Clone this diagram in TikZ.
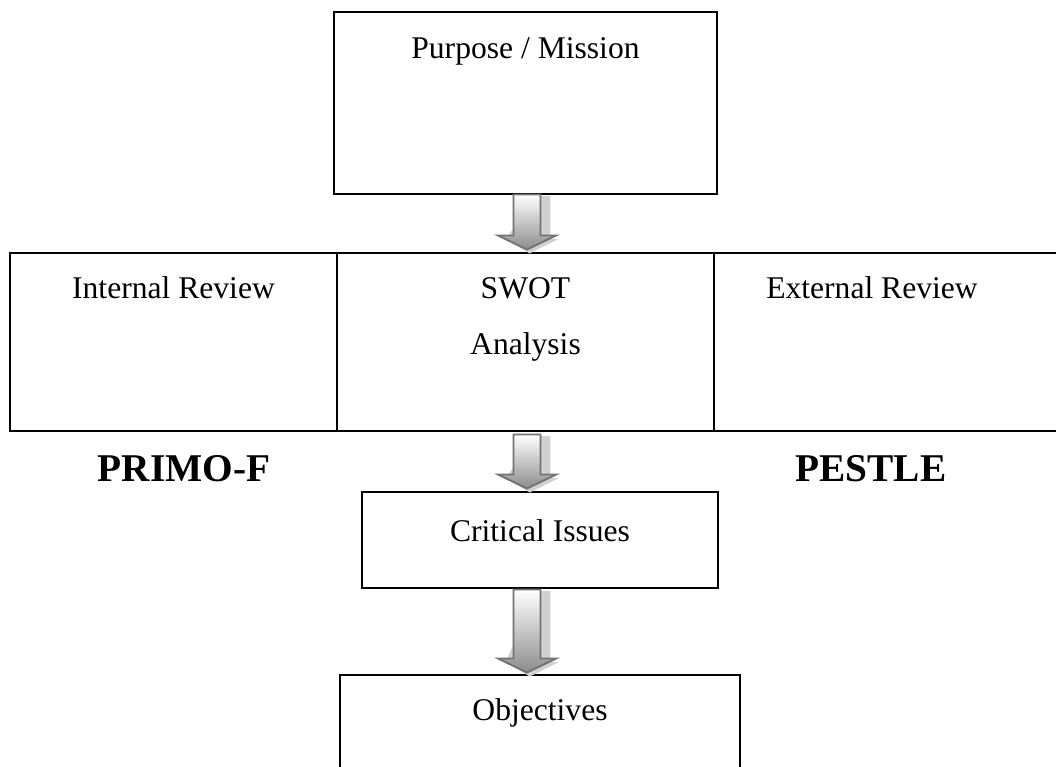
\documentclass[tikz,border=0pt]{standalone}
\usepackage{fontspec}
\setmainfont{Liberation Serif}
\usetikzlibrary{calc}
\begin{document}
\begin{tikzpicture}[x=0.75pt,y=-0.75pt,
  box/.style={draw=black,line width=2.2pt,rectangle,inner sep=0pt},
  lbl/.style={font=\fontsize{23.7}{28}\selectfont,inner sep=0pt},
  bigl/.style={font=\fontsize{29.5}{34}\selectfont\bfseries,inner sep=0pt},
  arrowbody/.style={top color=white,bottom color=black!45,draw=black!55,line width=1.4pt,line join=miter},
  arrowshadow/.style={fill=black!18}]
\useasboundingbox (0,0) rectangle (1056,767);
\fill[white] (0,0) rectangle (1056,767);

% boxes
\node[box,minimum width=383*0.75pt,minimum height=182*0.75pt] (pm) at (525.5,103) {};
\node[box,minimum width=327*0.75pt,minimum height=178*0.75pt] (int) at (173.5,342) {};
\node[box,minimum width=377*0.75pt,minimum height=178*0.75pt] (swot) at (525.5,342) {};
\node[box,minimum width=346*0.75pt,minimum height=178*0.75pt] (ext) at (887,342) {};
\node[box,minimum width=356*0.75pt,minimum height=96*0.75pt] (crit) at (540,540) {};
\node[box,minimum width=400*0.75pt,minimum height=100*0.75pt] (obj) at (540,725) {};

% texts
\node[lbl] (tpm) at (525.5,51) {Purpose / Mission};
\node[lbl] (tint) at (173.5,288) {Internal Review};
\node[lbl] (tswot) at (525.5,288) {SWOT};
\node[lbl] (tana) at (525.5,347) {Analysis};
\node[lbl] (text) at (872,288) {External Review};
\node[bigl] (primo) at (184,469) {PRIMO-F};
\node[bigl] (pestle) at (871,469) {PESTLE};
\node[lbl] (tcrit) at (540,531) {Critical Issues};
\node[lbl] (tobj) at (540,713) {Objectives};

% block arrow from #1 (top point) to #2 (tip point)
\newcommand\blockarr[2]{%
  \path let \p1=(#1), \p2=(#2) in
    [arrowshadow] (\x1+7.5pt,\y1-1pt) -- (\x1+17.5pt,\y1-1pt) -- (\x1+17.5pt,\y2+8pt)
      -- (\x1+24pt,\y2+8pt) -- (\x1+2pt,\y2-3pt) -- (\x1-16pt,\y2+8pt) -- cycle;
  \path let \p1=(#1), \p2=(#2) in
    [arrowbody] (\x1-10.1pt,\y1) -- (\x1+10.1pt,\y1) -- (\x1+10.1pt,\y2+10.5pt)
      -- (\x1+21.75pt,\y2+10.5pt) -- (\x1,\y2) -- (\x1-21.75pt,\y2+10.5pt)
      -- (\x1-10.1pt,\y2+10.5pt) -- cycle;
}
\coordinate (a1s) at ($(pm.south)+(1.5,-1)$);
\coordinate (a1e) at ($(swot.north)+(1.5,-2)$);
\blockarr{a1s}{a1e}
\coordinate (a2s) at ($(swot.south)+(1.5,2)$);
\coordinate (a2e) at ($(swot.south |- crit.north)+(1.5,-2)$);
\blockarr{a2s}{a2e}
\coordinate (a3s) at ($(swot.south |- crit.south)+(1.5,0)$);
\coordinate (a3e) at ($(swot.south |- obj.north)+(1.5,-1)$);
\blockarr{a3s}{a3e}
\end{tikzpicture}
\end{document}
